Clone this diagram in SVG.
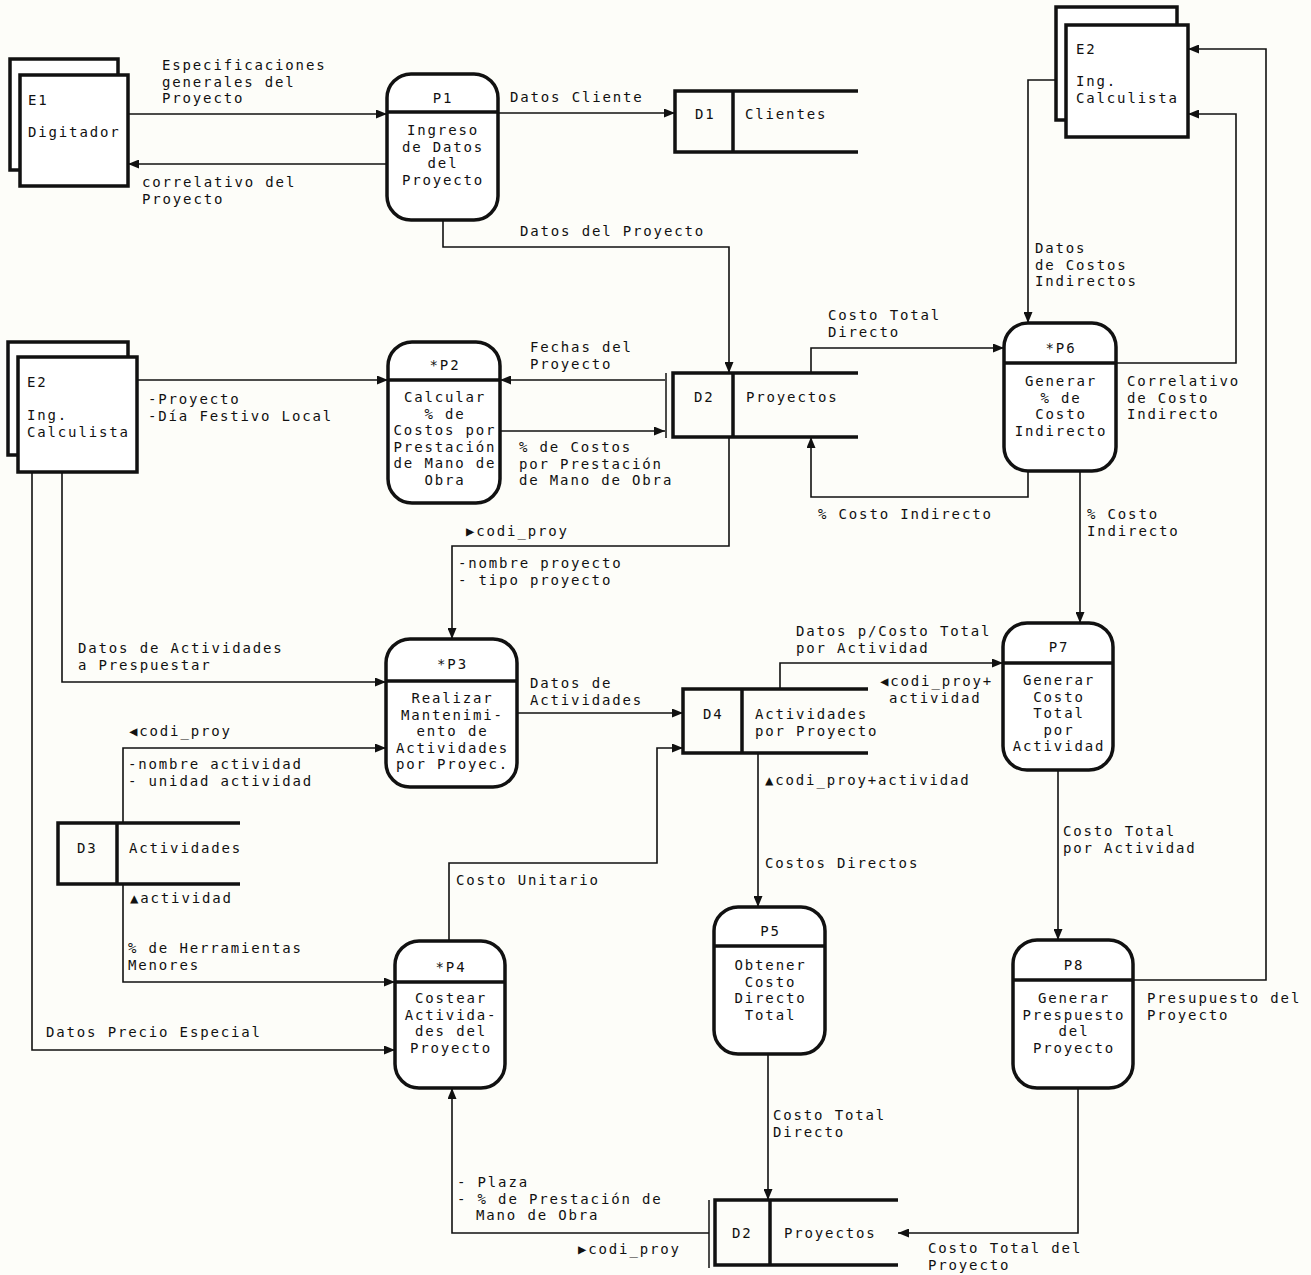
<svg xmlns="http://www.w3.org/2000/svg" width="1311" height="1275" viewBox="0 0 1311 1275">
<defs>
<marker id="ah" markerWidth="11" markerHeight="9" refX="11" refY="4.5" orient="auto" markerUnits="userSpaceOnUse">
<path d="M0,0 L11,4.5 L0,9 z" fill="#111"/>
</marker>
<style>
text{font-family:"DejaVu Sans Mono","Liberation Mono",monospace;font-size:14px;letter-spacing:1.85px;fill:#111}
.c{text-anchor:middle}
.ent{fill:#fff;stroke:#111;stroke-width:3.5}
.proc{fill:#fff;stroke:#111;stroke-width:3.5}
.hd{stroke:#111;stroke-width:3.5}
.st{fill:none;stroke:#111;stroke-width:3.5}
.thin{stroke:#111;stroke-width:1.5}
.flow{fill:none;stroke:#111;stroke-width:1.6;marker-end:url(#ah)}
</style>
</defs>
<rect width="1311" height="1275" fill="#fdfdf9"/>

<g id="connectors">
<path class="flow" d="M128,114 H387"/>
<path class="flow" d="M387,164 H128"/>
<path class="flow" d="M498,113 H675"/>
<path class="flow" d="M443,220 V247 H729 V373"/>
<path class="flow" d="M137,380 H388"/>
<path class="flow" d="M665,380 H500"/>
<path class="flow" d="M500,431 H665"/>
<path class="flow" d="M811,373 V348 H1004"/>
<path class="flow" d="M1028,471 V497 H811 V437"/>
<path class="flow" d="M1056,80 H1028 V323"/>
<path class="flow" d="M1116,363 H1236 V114 H1188"/>
<path class="flow" d="M1080,471 V623"/>
<path class="flow" d="M729,437 V546 H452 V639"/>
<path class="flow" d="M62,472 V682 H386"/>
<path class="flow" d="M123,823 V748 H386"/>
<path class="flow" d="M517,713 H683"/>
<path class="flow" d="M780,689 V663 H1003"/>
<path class="flow" d="M758,753 V907"/>
<path class="flow" d="M1058,770 V940"/>
<path class="flow" d="M123,884 V982 H395"/>
<path class="flow" d="M32,472 V1050 H395"/>
<path class="flow" d="M449,941 V863 H657 V748 H683"/>
<path class="flow" d="M768,1054 V1200"/>
<path class="flow" d="M1078,1088 V1233 H898"/>
<path class="flow" d="M709,1233 H452 V1088"/>
<path class="flow" d="M1133,980 H1266 V49 H1188"/>
</g>

<g id="flow-labels">
<text x="162" y="70">Especificaciones</text>
<text x="162" y="86.5">generales del</text>
<text x="162" y="103">Proyecto</text>
<text x="142" y="187">correlativo del</text>
<text x="142" y="203.5">Proyecto</text>
<text x="510" y="102">Datos Cliente</text>
<text x="520" y="236">Datos del Proyecto</text>
<text x="1035" y="253">Datos</text>
<text x="1035" y="269.5">de Costos</text>
<text x="1035" y="286">Indirectos</text>
<text x="828" y="320">Costo Total</text>
<text x="828" y="336.5">Directo</text>
<text x="530" y="352">Fechas del</text>
<text x="530" y="368.5">Proyecto</text>
<text x="148" y="404">-Proyecto</text>
<text x="148" y="420.5">-Día Festivo Local</text>
<text x="519" y="452">% de Costos</text>
<text x="519" y="468.5">por Prestación</text>
<text x="519" y="485">de Mano de Obra</text>
<text x="1127" y="386">Correlativo</text>
<text x="1127" y="402.5">de Costo</text>
<text x="1127" y="419">Indirecto</text>
<text x="818" y="519">% Costo Indirecto</text>
<text x="1087" y="519">% Costo</text>
<text x="1087" y="535.5">Indirecto</text>
<text x="466" y="536">▶codi_proy</text>
<text x="458" y="568">-nombre proyecto</text>
<text x="458" y="584.5">- tipo proyecto</text>
<text x="78" y="653">Datos de Actividades</text>
<text x="78" y="669.5">a Prespuestar</text>
<text x="796" y="636">Datos p/Costo Total</text>
<text x="796" y="652.5">por Actividad</text>
<text x="880" y="686">◀codi_proy+</text>
<text x="889" y="702.5">actividad</text>
<text x="530" y="688">Datos de</text>
<text x="530" y="704.5">Actividades</text>
<text x="129" y="736">◀codi_proy</text>
<text x="128" y="769">-nombre actividad</text>
<text x="128" y="785.5">- unidad actividad</text>
<text x="765" y="785">▲codi_proy+actividad</text>
<text x="1063" y="836">Costo Total</text>
<text x="1063" y="852.5">por Actividad</text>
<text x="765" y="868">Costos Directos</text>
<text x="456" y="885">Costo Unitario</text>
<text x="130" y="903">▲actividad</text>
<text x="128" y="953">% de Herramientas</text>
<text x="128" y="969.5">Menores</text>
<text x="1147" y="1003">Presupuesto del</text>
<text x="1147" y="1019.5">Proyecto</text>
<text x="46" y="1037">Datos Precio Especial</text>
<text x="773" y="1120">Costo Total</text>
<text x="773" y="1136.5">Directo</text>
<text x="457" y="1187">- Plaza</text>
<text x="457" y="1203.5">- % de Prestación de</text>
<text x="476" y="1220">Mano de Obra</text>
<text x="578" y="1254">▶codi_proy</text>
<text x="928" y="1253">Costo Total del</text>
<text x="928" y="1269.5">Proyecto</text>
</g>

<g id="E1">
<rect class="ent" x="10" y="59" width="108" height="111"/>
<rect class="ent" x="20" y="75" width="108" height="111"/>
<text x="28" y="105">E1</text>
<text x="28" y="137">Digitador</text>
</g>

<g id="E2a">
<rect class="ent" x="1056" y="7" width="121" height="113"/>
<rect class="ent" x="1066" y="25" width="122" height="112"/>
<text x="1076" y="54">E2</text>
<text x="1076" y="86">Ing.</text>
<text x="1076" y="102.5">Calculista</text>
</g>

<g id="E2b">
<rect class="ent" x="8" y="342" width="120" height="113"/>
<rect class="ent" x="18" y="357" width="119" height="115"/>
<text x="27" y="387">E2</text>
<text x="27" y="420">Ing.</text>
<text x="27" y="436.5">Calculista</text>
</g>

<g id="P1">
<rect class="proc" x="387" y="74" width="111" height="146" rx="24"/>
<line class="hd" x1="387" y1="112" x2="498" y2="112"/>
<text class="c" x="443" y="103">P1</text>
<text class="c" x="443" y="135">Ingreso</text>
<text class="c" x="443" y="151.5">de Datos</text>
<text class="c" x="443" y="168">del</text>
<text class="c" x="443" y="184.5">Proyecto</text>
</g>

<g id="P2">
<rect class="proc" x="388" y="342" width="112" height="161" rx="24"/>
<line class="hd" x1="388" y1="380" x2="500" y2="380"/>
<text class="c" x="445" y="370">*P2</text>
<text class="c" x="445" y="402">Calcular</text>
<text class="c" x="445" y="418.5">% de</text>
<text class="c" x="445" y="435">Costos por</text>
<text class="c" x="445" y="451.5">Prestación</text>
<text class="c" x="445" y="468">de Mano de</text>
<text class="c" x="445" y="484.5">Obra</text>
</g>

<g id="P3">
<rect class="proc" x="386" y="639" width="131" height="148" rx="24"/>
<line class="hd" x1="386" y1="681" x2="517" y2="681"/>
<text class="c" x="452.5" y="669">*P3</text>
<text class="c" x="452.5" y="703">Realizar</text>
<text class="c" x="452.5" y="719.5">Mantenimi-</text>
<text class="c" x="452.5" y="736">ento de</text>
<text class="c" x="452.5" y="752.5">Actividades</text>
<text class="c" x="452.5" y="769">por Proyec.</text>
</g>

<g id="P4">
<rect class="proc" x="395" y="941" width="110" height="147" rx="24"/>
<line class="hd" x1="395" y1="982" x2="505" y2="982"/>
<text class="c" x="451" y="972">*P4</text>
<text class="c" x="451" y="1003">Costear</text>
<text class="c" x="451" y="1019.5">Activida-</text>
<text class="c" x="451" y="1036">des del</text>
<text class="c" x="451" y="1052.5">Proyecto</text>
</g>

<g id="P5">
<rect class="proc" x="714" y="907" width="111" height="147" rx="24"/>
<line class="hd" x1="714" y1="946" x2="825" y2="946"/>
<text class="c" x="770.5" y="936">P5</text>
<text class="c" x="770.5" y="970">Obtener</text>
<text class="c" x="770.5" y="986.5">Costo</text>
<text class="c" x="770.5" y="1003">Directo</text>
<text class="c" x="770.5" y="1019.5">Total</text>
</g>

<g id="P6">
<rect class="proc" x="1004" y="323" width="112" height="148" rx="24"/>
<line class="hd" x1="1004" y1="363" x2="1116" y2="363"/>
<text class="c" x="1061" y="353">*P6</text>
<text class="c" x="1061" y="386">Generar</text>
<text class="c" x="1061" y="402.5">% de</text>
<text class="c" x="1061" y="419">Costo</text>
<text class="c" x="1061" y="435.5">Indirecto</text>
</g>

<g id="P7">
<rect class="proc" x="1003" y="623" width="110" height="147" rx="24"/>
<line class="hd" x1="1003" y1="663" x2="1113" y2="663"/>
<text class="c" x="1059" y="652">P7</text>
<text class="c" x="1059" y="685">Generar</text>
<text class="c" x="1059" y="701.5">Costo</text>
<text class="c" x="1059" y="718">Total</text>
<text class="c" x="1059" y="734.5">por</text>
<text class="c" x="1059" y="751">Actividad</text>
</g>

<g id="P8">
<rect class="proc" x="1013" y="940" width="120" height="148" rx="24"/>
<line class="hd" x1="1013" y1="980" x2="1133" y2="980"/>
<text class="c" x="1074" y="970">P8</text>
<text class="c" x="1074" y="1003">Generar</text>
<text class="c" x="1074" y="1019.5">Prespuesto</text>
<text class="c" x="1074" y="1036">del</text>
<text class="c" x="1074" y="1052.5">Proyecto</text>
</g>

<g id="D1">
<path class="st" d="M858,91 H675 V152 H858 M733,91 V152"/>
<text x="695" y="119">D1</text>
<text x="745" y="119">Clientes</text>
</g>

<g id="D2">
<line class="thin" x1="666" y1="373" x2="666" y2="438"/>
<path class="st" d="M858,373 H673 V437 H858 M733,373 V437"/>
<text x="694" y="402">D2</text>
<text x="746" y="402">Proyectos</text>
</g>

<g id="D3">
<path class="st" d="M240,823 H58 V884 H240 M117,823 V884"/>
<text x="77" y="853">D3</text>
<text x="129" y="853">Actividades</text>
</g>

<g id="D4">
<path class="st" d="M868,689 H683 V753 H868 M742,689 V753"/>
<text x="703" y="719">D4</text>
<text x="755" y="719">Actividades</text>
<text x="755" y="735.5">por Proyecto</text>
</g>

<g id="D2b">
<line class="thin" x1="709" y1="1200" x2="709" y2="1268"/>
<path class="st" d="M898,1200 H715 V1265 H898 M770,1200 V1265"/>
<text x="732" y="1238">D2</text>
<text x="784" y="1238">Proyectos</text>
</g>
</svg>
